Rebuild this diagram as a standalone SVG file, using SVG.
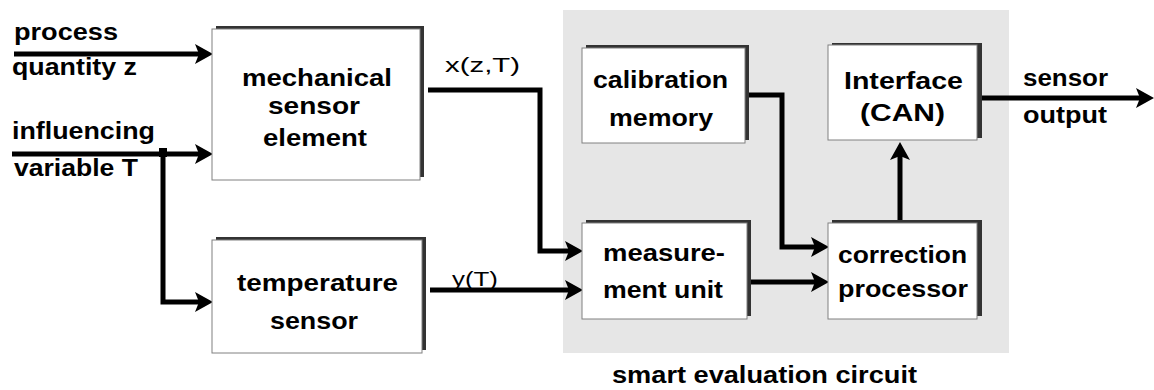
<svg xmlns="http://www.w3.org/2000/svg" width="1154" height="390" viewBox="0 0 1154 390">
<style>
.t{font-family:"Liberation Sans",Arial,sans-serif;font-size:23px;font-weight:bold;fill:#000}
.tn{font-family:"Liberation Sans",Arial,sans-serif;font-size:21px;fill:#000}
.box{fill:#fff;stroke:#808080;stroke-width:1}
.sh{fill:#333}
.c{fill:none;stroke:#000;stroke-width:5;stroke-linejoin:miter;stroke-linecap:butt}
</style>
<defs>
<marker id="ah" markerUnits="userSpaceOnUse" viewBox="0 0 20 22" markerWidth="20" markerHeight="22" refX="8" refY="11" orient="auto">
<path d="M19,11 L1,1 L5,11 L1,21 Z" fill="#000"/>
</marker>
</defs>
<rect id="evaluation-area" x="563" y="10" width="446" height="343" fill="#e6e6e6"/>
<text class="t" x="612" y="383" textLength="305" lengthAdjust="spacingAndGlyphs">smart evaluation circuit</text>

<g id="connectors">
<path class="c" d="M14,54 H202" marker-end="url(#ah)"/>
<path class="c" d="M12,154 H202" marker-end="url(#ah)"/>
<path class="c" d="M163,151 V302 H202" marker-end="url(#ah)"/>
<rect x="159" y="148" width="8" height="9" fill="#000"/>
<path class="c" d="M428,90 H540 V251 H572" marker-end="url(#ah)"/>
<path class="c" d="M430,290 H572" marker-end="url(#ah)"/>
<path class="c" d="M748,95 H782 V247 H818" marker-end="url(#ah)"/>
<path class="c" d="M750,282 H818" marker-end="url(#ah)"/>
<path class="c" d="M900,221 V153" marker-end="url(#ah)"/>
<path class="c" d="M982,98 H1143" marker-end="url(#ah)"/>
</g>

<g id="label-process">
<text class="t" x="14" y="40" textLength="104" lengthAdjust="spacingAndGlyphs">process</text>
<text class="t" x="12" y="75" textLength="125" lengthAdjust="spacingAndGlyphs">quantity z</text>
</g>
<g id="label-influencing">
<text class="t" x="12" y="139" textLength="143" lengthAdjust="spacingAndGlyphs">influencing</text>
<text class="t" x="14" y="176" textLength="124" lengthAdjust="spacingAndGlyphs">variable T</text>
</g>

<g id="mechanical-sensor-element">
<rect class="sh" x="216" y="26" width="208" height="151"/>
<rect class="box" x="212" y="29" width="208" height="151"/>
<text class="t" x="242" y="86" textLength="150" lengthAdjust="spacingAndGlyphs">mechanical</text>
<text class="t" x="268" y="114" textLength="92" lengthAdjust="spacingAndGlyphs">sensor</text>
<text class="t" x="263" y="146" textLength="104" lengthAdjust="spacingAndGlyphs">element</text>
</g>

<g id="temperature-sensor">
<rect class="sh" x="216" y="237" width="210" height="113"/>
<rect class="box" x="212" y="240" width="210" height="113"/>
<text class="t" x="237" y="291" textLength="161" lengthAdjust="spacingAndGlyphs">temperature</text>
<text class="t" x="270" y="329" textLength="88" lengthAdjust="spacingAndGlyphs">sensor</text>
</g>

<text class="tn" x="445" y="72" textLength="75" lengthAdjust="spacingAndGlyphs">x(z,T)</text>
<text class="tn" x="452" y="286" font-size="24" textLength="46" lengthAdjust="spacingAndGlyphs">y(T)</text>

<g id="calibration-memory">
<rect class="sh" x="586" y="45" width="163" height="95"/>
<rect class="box" x="582" y="48" width="163" height="95"/>
<text class="t" x="593" y="88" textLength="135" lengthAdjust="spacingAndGlyphs">calibration</text>
<text class="t" x="609" y="126" textLength="104" lengthAdjust="spacingAndGlyphs">memory</text>
</g>

<g id="measurement-unit">
<rect class="sh" x="586" y="220" width="165" height="96"/>
<rect class="box" x="582" y="223" width="165" height="96"/>
<text class="t" x="603" y="261" textLength="122" lengthAdjust="spacingAndGlyphs">measure-</text>
<text class="t" x="603" y="298" textLength="120" lengthAdjust="spacingAndGlyphs">ment unit</text>
</g>

<g id="interface-can">
<rect class="sh" x="832" y="43" width="150" height="95"/>
<rect class="box" x="828" y="45" width="149" height="95"/>
<text class="t" x="844" y="89" textLength="119" lengthAdjust="spacingAndGlyphs">Interface</text>
<text class="t" x="860" y="121" textLength="85" lengthAdjust="spacingAndGlyphs">(CAN)</text>
</g>

<g id="correction-processor">
<rect class="sh" x="832" y="220" width="150" height="96"/>
<rect class="box" x="828" y="223" width="149" height="96"/>
<text class="t" x="838" y="263" textLength="129" lengthAdjust="spacingAndGlyphs">correction</text>
<text class="t" x="838" y="297" textLength="130" lengthAdjust="spacingAndGlyphs">processor</text>
</g>

<g id="label-sensor-output">
<text class="t" x="1023" y="86" textLength="85" lengthAdjust="spacingAndGlyphs">sensor</text>
<text class="t" x="1023" y="123" textLength="84" lengthAdjust="spacingAndGlyphs">output</text>
</g>
</svg>
